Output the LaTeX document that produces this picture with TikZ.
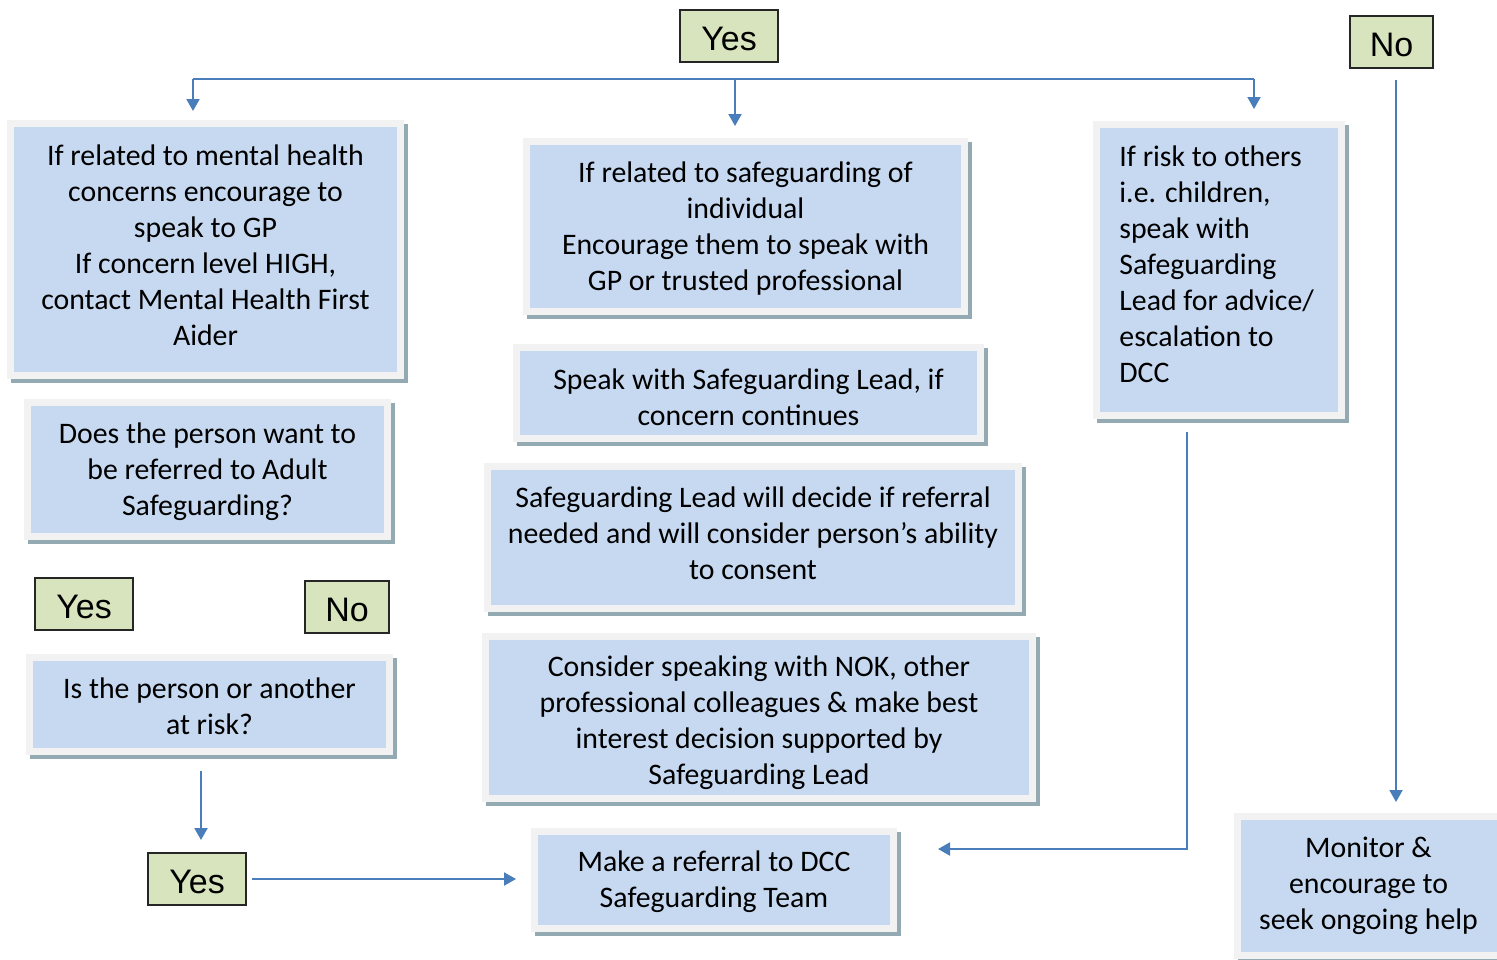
\documentclass[tikz,border=0pt]{standalone}
\usepackage{fontspec}
\setmainfont{Carlito}
\newfontfamily\arialf{Liberation Sans}
\usetikzlibrary{arrows.meta}
\definecolor{boxblue}{HTML}{C6D9F1}
\definecolor{framegray}{HTML}{F2F2F2}
\definecolor{shadowc}{HTML}{93AAB3}
\definecolor{lblgreen}{HTML}{D7E4BD}
\definecolor{arrowc}{HTML}{4A7EBB}
\begin{document}
\begin{tikzpicture}[x=0.5pt,y=-0.5pt,
 box/.style={draw=framegray, line width=3.5pt, fill=boxblue, inner sep=0pt,
   preaction={draw=shadowc, fill=shadowc, line width=3.5pt, transform canvas={shift={(2pt,-2pt)}}}},
 txt/.style={inner sep=0pt, align=center, font=\fontsize{14.9}{18}\selectfont},
 lbl/.style={draw=black!85, line width=0.9pt, fill=lblgreen, inner sep=0pt,
   minimum height=26pt, text height=20.4pt, text depth=5.6pt, font=\arialf\fontsize{17}{18}\selectfont},
 conn/.style={draw=arrowc, line width=1pt},
 arr/.style={conn, -{Triangle[length=6pt,width=6.5pt]}}]
\useasboundingbox[fill=white] (0,0) rectangle (1497,959);

% boxes
\node[box, minimum width=195pt, minimum height=126pt] (mh) at (205.5,249.5) {};
\node[box, minimum width=219pt, minimum height=85pt] (si) at (745.5,226.5) {};
\node[box, minimum width=232pt, minimum height=45.5pt] (sl) at (748.5,393) {};
\node[box, minimum width=265.5pt, minimum height=71pt] (dec) at (753,537.5) {};
\node[box, minimum width=273.5pt, minimum height=81pt] (nok) at (759,717.5) {};
\node[box, minimum width=179.5pt, minimum height=48.5pt] (ref) at (714,880) {};
\node[box, minimum width=122.5pt, minimum height=145.5pt] (risk) at (1219,270) {};
\node[box, minimum width=180pt, minimum height=67pt] (want) at (207.5,469.5) {};
\node[box, minimum width=180pt, minimum height=47pt] (atrisk) at (209.5,704.5) {};
\node[box, minimum width=133pt, minimum height=69.5pt] (mon) at (1370.5,886) {};

% box texts
\node[txt] (mh-t) at ([yshift=2pt]mh.center)
  {If related to mental health\\concerns encourage to\\speak to GP\\If concern level HIGH,\\contact Mental Health First\\Aider};
\node[txt] (si-t) at ([yshift=-1pt]si.center)
  {If related to safeguarding of\\individual\\Encourage them to speak with\\GP or trusted professional};
\node[txt] (sl-t) at ([yshift=-2pt]sl.center)
  {Speak with Safeguarding Lead, if\\concern continues};
\node[txt] (dec-t) at ([yshift=2pt]dec.center)
  {Safeguarding Lead will decide if referral\\needed and will consider person’s ability\\to consent};
\node[txt] (nok-t) at ([yshift=-2.5pt]nok.center)
  {Consider speaking with NOK, other\\professional colleagues \& make best\\interest decision supported by\\Safeguarding Lead};
\node[txt] (ref-t) at ([yshift=-1pt]ref.center)
  {Make a referral to DCC\\Safeguarding Team};
\node[txt, align=left, anchor=west] (risk-t) at ([xshift=13pt,yshift=3pt]risk.center -| risk.west)
  {If risk to others\\i.e. children,\\speak with\\Safeguarding\\Lead for advice/\\escalation to\\DCC};
\node[txt] (want-t) at ([yshift=-1pt]want.center)
  {Does the person want to\\be referred to Adult\\Safeguarding?};
\node[txt] (atrisk-t) at ([yshift=-1pt]atrisk.center)
  {Is the person or another\\at risk?};
\node[txt] (mon-t) at ([xshift=-1pt]mon.center)
  {Monitor \&\\encourage to\\seek ongoing help};

% labels
\node[lbl, minimum width=49pt] (yestop) at (729,36) {Yes};
\node[lbl, minimum width=41.5pt] (notop) at (1391.5,42) {No};
\node[lbl, minimum width=49pt] (yesl) at (84,604) {Yes};
\node[lbl, minimum width=42pt] (nol) at (347,607) {No};
\node[lbl, minimum width=49pt] (yesb) at (197,879) {Yes};

% connectors
\coordinate (tL) at (193,79);
\coordinate (tM) at (735,79);
\coordinate (tR) at (1254,79);
\coordinate (eL) at (193,111);
\coordinate (eM) at (735,126);
\coordinate (eR) at (1254,109);
\draw[conn] (tL) -- (tR);
\draw[arr] (tL) -- (eL);
\draw[arr] (tM) -- (eM);
\draw[arr] (tR) -- (eR);

\coordinate (nS) at (1396,80);
\coordinate (nE) at (1396,802);
\draw[arr] (nS) -- (nE);

\coordinate (rS) at (1187,432);
\coordinate (rE) at (938,849);
\draw[arr] (rS) |- (rE);

\coordinate (lS) at (201,771);
\coordinate (lE) at (201,840);
\draw[arr] (lS) -- (lE);

\coordinate (bS) at (252,879);
\coordinate (bE) at (516,879);
\draw[arr] (bS) -- (bE);
\end{tikzpicture}
\end{document}
